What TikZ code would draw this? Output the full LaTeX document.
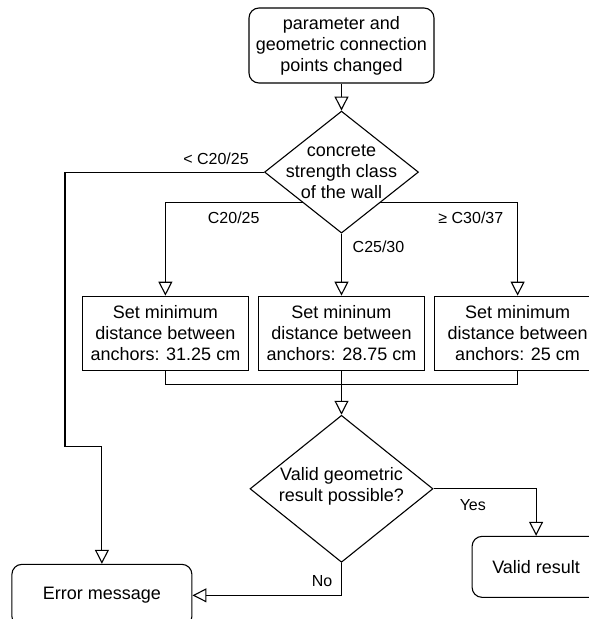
\documentclass[tikz,border=0pt]{standalone}
\usepackage{fontspec}
\setmainfont{Liberation Sans}
\usetikzlibrary{shapes.geometric,positioning,arrows.meta}

\tikzset{
  txt/.style={font=\fontsize{18}{21}\selectfont, align=center},
  lbl/.style={font=\fontsize{16}{19}\selectfont, inner sep=0pt},
  term/.style={txt, draw, rounded corners=10pt, line width=1.1pt, inner sep=0pt},
  proc/.style={txt, draw, line width=1.1pt, minimum width=166pt, minimum height=74pt, inner sep=0pt},
  cond/.style={diamond, draw, line width=1.1pt, inner sep=0pt},
  conn/.style={line width=1.1pt},
  arr/.style={conn, -{Triangle[open, length=14pt, width=14pt]}},
}

\begin{document}
\begin{tikzpicture}[x=1pt, y=1pt]
  \useasboundingbox (0,0) rectangle (589,-619);
  \node[term, minimum width=185pt, minimum height=75pt] (chg) at (341.5,-45.5) {parameter and\\geometric connection\\points changed};
  \node[cond, minimum width=154pt, minimum height=122pt, below=27pt of chg] (cls) {};
  \node[txt] (clst) at (cls) {concrete\\strength class\\of the wall};
  \node[proc, below=62pt of cls] (mid) {Set mininum\\distance between\\anchors: 28.75 cm};
  \node[proc, left=9pt of mid] (low) {Set minimum\\distance between\\anchors: 31.25 cm};
  \node[proc, right=9pt of mid] (high) {Set minimum\\distance between\\anchors: 25 cm};
  \node[cond, minimum width=183pt, minimum height=147pt, below=44pt of mid] (chk) {};
  \node[txt] (chkt) at ([yshift=2pt]chk) {Valid geometric\\result possible?};
  \node[term, minimum width=180pt, minimum height=62pt, below left=75pt and 57pt of chk.west] (err) {Error message};
  \node[term, minimum width=128pt, minimum height=61pt, below right=47pt and 38pt of chk.east] (ok) {Valid result};
  \node[lbl, anchor=base east] (ltlo) at ([xshift=-15pt, yshift=8pt]cls.west) {< C20/25};
  \node[lbl, anchor=base] (llo) at ([xshift=-69pt, yshift=-21pt]cls.south west) {C20/25};
  \node[lbl, anchor=base west] (lmid) at ([xshift=11pt, yshift=-19pt]cls.south) {C25/30};
  \node[lbl, anchor=base west] (lhi) at ([xshift=58pt, yshift=-21pt]cls.south east) {≥ C30/37};
  \node[lbl, anchor=base west] (lyes) at ([xshift=26pt, yshift=-22pt]chk.east) {Yes};
  \node[lbl, anchor=base east] (lno) at ([xshift=-9pt, yshift=-24pt]chk.south) {No};
  \draw[arr] (chg) -- (cls);
  \draw[arr] (cls.west) -- ++(-199,0) |- ([yshift=117pt]err.north) -- (err);
  \draw[arr] (cls.south west) -| (low);
  \draw[arr] (cls) -- (mid);
  \draw[arr] (cls.south east) -| (high);
  \draw[conn] (low.south) -- ++(0,-14) -| (high.south);
  \draw[arr] (mid) -- (chk);
  \draw[arr] (chk.east) -| (ok);
  \draw[arr] (chk.south) |- (err);
\end{tikzpicture}
\end{document}
